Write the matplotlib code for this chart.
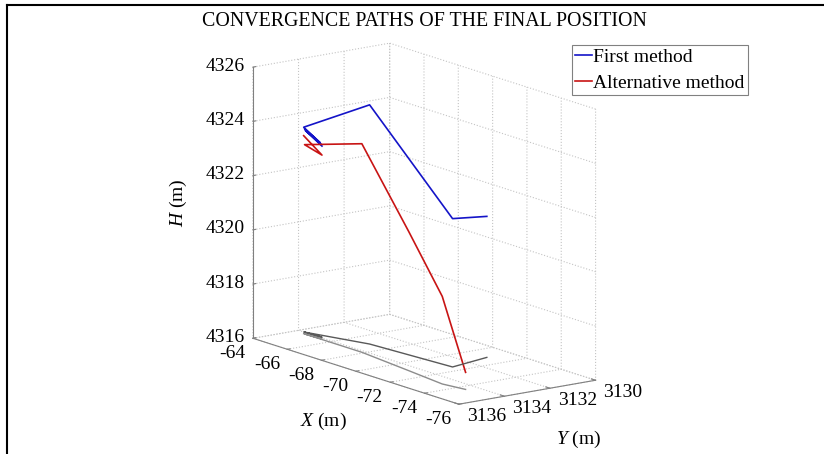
import numpy as np
import matplotlib
matplotlib.use("Agg")
import matplotlib.pyplot as plt
from matplotlib.lines import Line2D
from mpl_toolkits.mplot3d import proj3d

plt.rcParams["font.family"] = ["Liberation Serif", "DejaVu Serif"]
plt.rcParams["font.size"] = 14
plt.rcParams["axes.unicode_minus"] = False
plt.rcParams["mathtext.fontset"] = "custom"
plt.rcParams["mathtext.rm"] = "Liberation Serif"
plt.rcParams["mathtext.it"] = "Liberation Serif:italic"
plt.rcParams["grid.color"] = "#c4c4c4"
plt.rcParams["grid.linestyle"] = ":"
plt.rcParams["grid.linewidth"] = 0.8

title = "CONVERGENCE PATHS OF THE FINAL POSITION"
series_names = ["First method", "Alternative method"]

# iterate positions (X, Y, H) of each method
first_x = [-65.30, -64.40, -65.25, -64.35, -65.20, -64.30, -67.08, -71.49, -71.07]
first_y = [3133.95, 3134.00, 3133.95, 3134.00, 3133.95, 3134.00, 3133.20, 3132.88, 3131.06]
first_h = [4323.05, 4323.45, 4323.10, 4323.50, 4323.15, 4323.55, 4324.82, 4321.47, 4321.20]

alt_x = [-64.50, -65.50, -64.55, -67.89, -71.02, -73.28, -74.40]
alt_y = [3134.15, 3134.10, 3134.15, 3134.15, 3134.45, 3134.68, 3134.50]
alt_h = [4323.30, 4322.78, 4322.98, 4323.69, 4321.13, 4319.23, 4316.63]

x_ticks = [-76, -74, -72, -70, -68, -66, -64]
y_ticks = [3130, 3132, 3134, 3136]
z_ticks = [4316, 4318, 4320, 4322, 4324, 4326]

W, H = 824, 454
fig = plt.figure(figsize=(W / 100, H / 100), dpi=100)
ax = fig.add_axes([0, 0, 1, 1], projection="3d", proj_type="ortho")
ax.view_init(elev=13.7, azim=143.5)
ax.set_box_aspect((346, 170, 279))
ax.set_xlim(x_ticks[0], x_ticks[-1])
ax.set_ylim(y_ticks[0], y_ticks[-1])
ax.set_zlim(z_ticks[0], z_ticks[-1])
ax.set_xticks(x_ticks)
ax.set_yticks(y_ticks)
ax.set_zticks(z_ticks)
ax.zaxis.set_ticks_position("upper")

blue = "#1414c8"
red = "#c81414"
ax.plot(first_x, first_y, first_h, color=blue, lw=1.2, label=series_names[0])
ax.plot(alt_x, alt_y, alt_h, color=red, lw=1.2, label=series_names[1])

# shadows of both paths on the floor of the box
floor = z_ticks[0]
ax.plot(first_x, first_y, np.full(len(first_x), floor), color="0.35", lw=1.0)
ax.plot(alt_x, alt_y, np.full(len(alt_x), floor), color="0.55", lw=1.0)

for axis in (ax.xaxis, ax.yaxis, ax.zaxis):
    axis.set_pane_color((1, 1, 1, 0))
    axis.line.set_color("0.5")
    axis.line.set_linewidth(0.8)
    axis._axinfo["tick"]["inward_factor"] = 0.0
    axis._axinfo["tick"]["outward_factor"] = 0.25
ax.tick_params(axis="both", colors="0.5", labelcolor="black", labelsize=14, width=0.8)
ax.tick_params(axis="x", pad=1.2)
ax.tick_params(axis="y", pad=-1.5)
ax.tick_params(axis="z", pad=-4.0)

for t in ax.xaxis.get_major_ticks():
    t.label1.set_horizontalalignment("right")
    t.label1.set_verticalalignment("center")
for t in ax.yaxis.get_major_ticks():
    t.label1.set_horizontalalignment("left")
    t.label1.set_verticalalignment("center")
for t in ax.zaxis.get_major_ticks():
    t.label1.set_horizontalalignment("right")
    t.label1.set_verticalalignment("center")

# place the box so its corners sit at the chosen pixel positions
corners = np.array([
    [x_ticks[-1], y_ticks[-1], z_ticks[0]],
    [x_ticks[0], y_ticks[-1], z_ticks[0]],
    [x_ticks[0], y_ticks[0], z_ticks[0]],
    [x_ticks[-1], y_ticks[-1], z_ticks[-1]],
    [x_ticks[-1], y_ticks[0], z_ticks[-1]],
])
targets = np.array([[254, 338], [457, 405], [597, 380], [254, 67], [388, 43]], float)
targets[:, 1] = H - targets[:, 1]
xs, ys, _ = proj3d.proj_transform(corners[:, 0], corners[:, 1], corners[:, 2], ax.get_proj())
frac = ax.transLimits.transform(np.column_stack([xs, ys]))
A = np.zeros((2 * len(frac), 3))
b = np.zeros(2 * len(frac))
A[0::2, 0] = frac[:, 0]
A[0::2, 1] = 1
A[1::2, 0] = frac[:, 1]
A[1::2, 2] = 1
b[0::2] = targets[:, 0]
b[1::2] = targets[:, 1]
S, x0, y0 = np.linalg.lstsq(A, b, rcond=None)[0]
ax.set_position([x0 / W, y0 / H, S / W, S / H])

fig.text(424 / W, 1 - 21 / H, title, ha="center", va="center", fontsize=14.3)
fig.text(178 / W, 1 - 203 / H, r"$H$ (m)", rotation=90, ha="center", va="center")
fig.text(323 / W, 1 - 421 / H, r"$X$ (m)", ha="center", va="center")
fig.text(579 / W, 1 - 439 / H, r"$Y$ (m)", ha="center", va="center")

handles, labels = ax.get_legend_handles_labels()
leg = fig.legend(handles, labels, loc="upper left",
                 bbox_to_anchor=(571.7 / W, 1 - 45 / H), borderaxespad=0,
                 fancybox=False, edgecolor="0.5", framealpha=1,
                 handlelength=0.9, handletextpad=0.07, borderpad=0.15,
                 labelspacing=0.45)
leg.get_frame().set_linewidth(0.8)

fig.add_artist(Line2D([7 / W, 7 / W], [0, 1 - 5 / H], color="black", lw=1.5))
fig.add_artist(Line2D([7 / W, 1], [1 - 5 / H, 1 - 5 / H], color="black", lw=1.5))

fig.savefig("out.png", dpi=100)
